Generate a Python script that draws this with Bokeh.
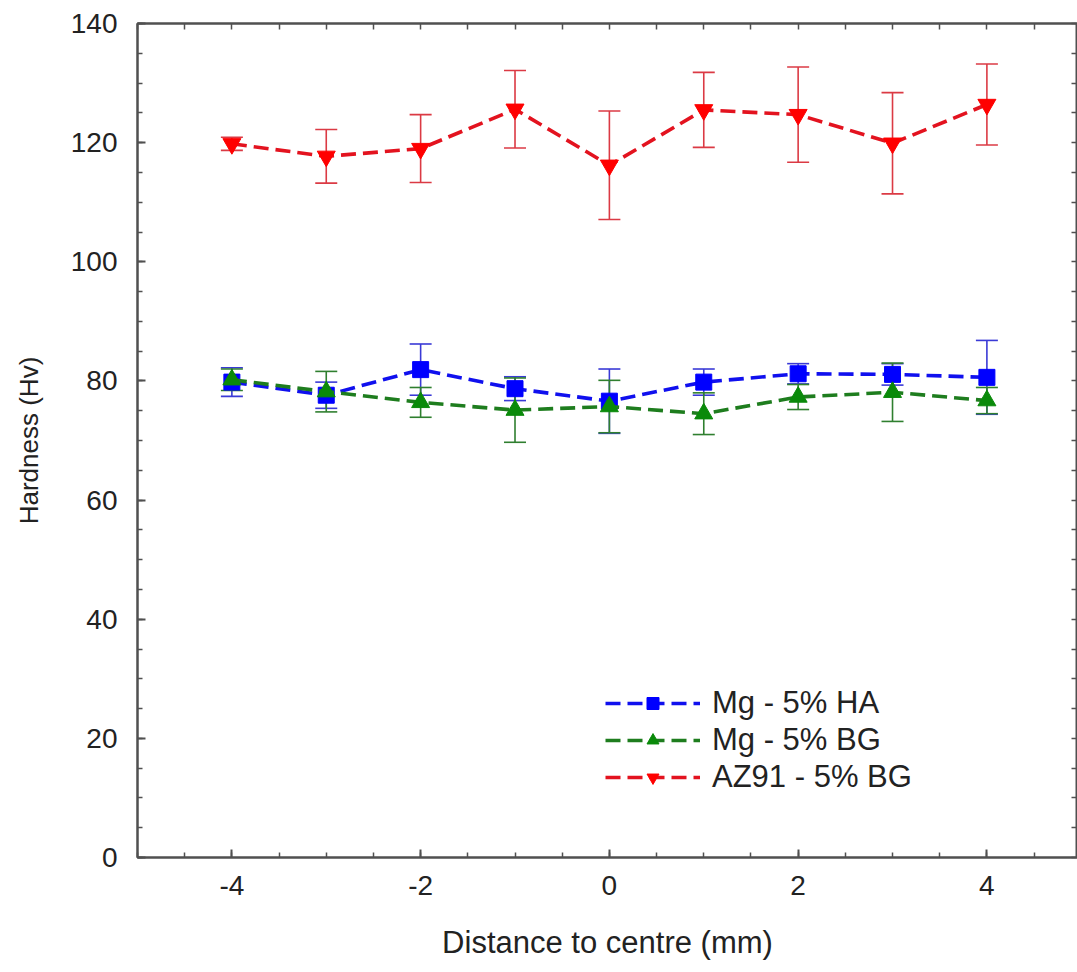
import numpy as np
from bokeh.plotting import figure
from bokeh.models import (ColumnDataSource, Whisker, TeeHead, LinearAxis, FixedTicker,
                          Range1d, Legend, LegendItem)
from bokeh.embed import file_html
from bokeh.resources import INLINE

# ---------------- data ----------------
distance = [-4, -3, -2, -1, 0, 1, 2, 3, 4]

ha_mean = [79.8, 77.6, 81.9, 78.7, 76.6, 79.8, 81.2, 81.1, 80.6]
ha_err = [2.4, 2.2, 4.3, 2.0, 5.4, 2.2, 1.7, 1.8, 6.2]

bg_mean = [80.2, 78.2, 76.4, 75.1, 75.7, 74.5, 77.3, 78.1, 76.7]
bg_err = [1.8, 3.4, 2.5, 5.4, 4.4, 3.5, 2.1, 4.9, 2.2]

az_mean = [119.8, 117.7, 119.0, 125.6, 116.2, 125.5, 124.7, 119.9, 126.4]
az_err = [1.1, 4.5, 5.7, 6.5, 9.1, 6.3, 8.0, 8.5, 6.8]

series_names = ["Mg - 5% HA", "Mg - 5% BG", "AZ91 - 5% BG"]

x_ticks = [-4, -2, 0, 2, 4]
x_tick_labels = ["-4", "-2", "0", "2", "4"]
y_ticks = [0, 20, 40, 60, 80, 100, 120, 140]

FONT = "Liberation Sans"
AXIS_COLOR = "#505050"

p = figure(width=1077, height=966, output_backend="svg", toolbar_location=None,
           x_range=Range1d(-5, 4.96), y_range=Range1d(0, 140),
           min_border_left=137, min_border_top=23, min_border_bottom=109, min_border_right=0,
           background_fill_color="white", border_fill_color="white")
p.xgrid.visible = False
p.ygrid.visible = False
p.outline_line_color = AXIS_COLOR
p.outline_line_width = 2

x_minor = list(np.arange(-5, 5.01, 0.5))
y_minor = list(np.arange(0, 140.01, 5))
xt = FixedTicker(ticks=x_ticks, minor_ticks=x_minor)
yt = FixedTicker(ticks=y_ticks, minor_ticks=y_minor)


def style_axis(ax):
    ax.axis_line_color = AXIS_COLOR
    ax.axis_line_width = 2
    ax.major_tick_line_color = AXIS_COLOR
    ax.minor_tick_line_color = AXIS_COLOR
    ax.major_tick_line_width = 2
    ax.minor_tick_line_width = 1.5
    ax.major_tick_in = 8
    ax.major_tick_out = 0
    ax.minor_tick_in = 5
    ax.minor_tick_out = 0
    ax.major_label_text_font = FONT
    ax.major_label_text_color = "#222222"
    ax.major_label_text_font_size = "28px"


p.xaxis.ticker = xt
p.yaxis.ticker = yt
style_axis(p.xaxis[0])
style_axis(p.yaxis[0])
p.xaxis.major_label_overrides = {t: s for t, s in zip(x_ticks, x_tick_labels)}
p.xaxis.major_label_standoff = 18
p.yaxis.major_label_standoff = 20
p.xaxis.axis_label = "Distance to centre (mm)"
p.yaxis.axis_label = "Hardness (Hv)"
for ax, size in ((p.xaxis[0], "31px"), (p.yaxis[0], "26px")):
    ax.axis_label_text_font = FONT
    ax.axis_label_text_font_style = "normal"
    ax.axis_label_text_color = "#222222"
    ax.axis_label_text_font_size = size
p.xaxis.axis_label_standoff = 27
p.yaxis.axis_label_standoff = 24

# top and right axes: ticks only (drawn as minor ticks, so no labels)
top_ax = LinearAxis(ticker=FixedTicker(ticks=[], minor_ticks=x_minor))
style_axis(top_ax)
top_ax.minor_tick_in = 6
p.add_layout(top_ax, "above")
right_ax = LinearAxis(ticker=FixedTicker(ticks=[], minor_ticks=y_minor))
style_axis(right_ax)
right_ax.minor_tick_in = 6
p.add_layout(right_ax, "right")

specs = [
    (ha_mean, ha_err, "#1010ee", "#0000ff", "#3a3ad6", "square", 16),
    (bg_mean, bg_err, "#1e7d1e", "#0a8a0a", "#2f7f2f", "triangle", 18),
    (az_mean, az_err, "#e3131f", "#ff0000", "#db3a44", "inverted_triangle", 18),
]

items = []
for name, (mean, err, lcol, mcol, ecol, marker, msize) in zip(series_names, specs):
    mean_a = np.array(mean)
    err_a = np.array(err)
    src = ColumnDataSource(dict(x=distance, y=mean, lo=list(mean_a - err_a), hi=list(mean_a + err_a)))
    w = Whisker(source=src, base="x", upper="hi", lower="lo", line_color=ecol, line_width=1.6,
                upper_head=TeeHead(size=22, line_color=ecol, line_width=1.6),
                lower_head=TeeHead(size=22, line_color=ecol, line_width=1.6))
    p.add_layout(w)
    r_line = p.line("x", "y", source=src, line_color=lcol, line_width=3.6, line_dash="15 7")
    r_mark = p.scatter("x", "y", source=src, marker=marker, size=msize,
                       fill_color=mcol, line_color=mcol)
    items.append(LegendItem(label=name, renderers=[r_line, r_mark]))

legend = Legend(items=items, location=(468, 62), border_line_color=None,
                background_fill_alpha=0, padding=0, margin=0, spacing=1,
                glyph_width=95, glyph_height=30, label_height=36, label_standoff=12,
                label_text_font=FONT, label_text_font_size="31px", label_text_color="#222222")
p.add_layout(legend, "center")

open("out.html", "w").write(file_html(p, INLINE))
